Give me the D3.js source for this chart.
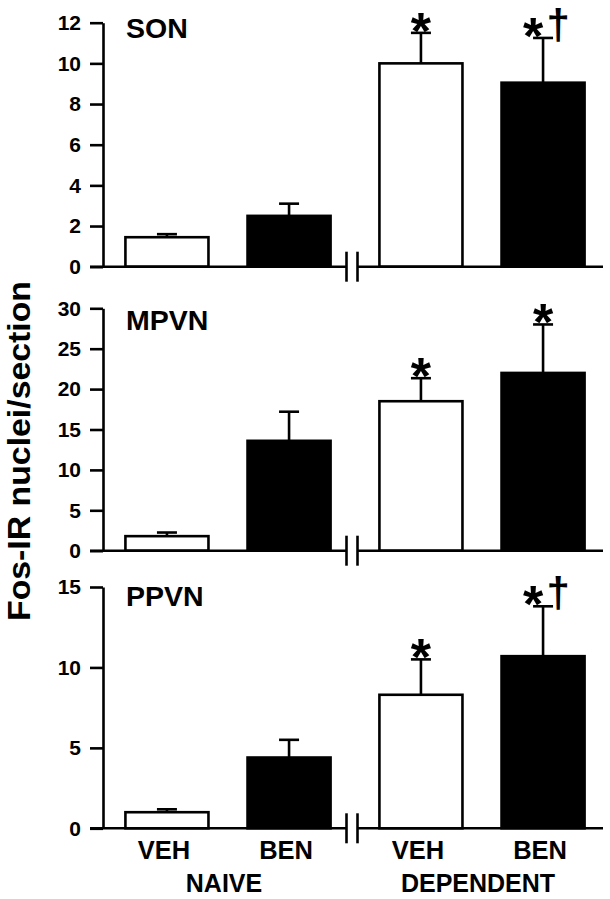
<!DOCTYPE html>
<html>
<head>
<meta charset="utf-8">
<script src="https://cdn.jsdelivr.net/npm/d3@7"></script>
<style>
  html, body { margin: 0; padding: 0; background: #fff; }
  svg { display: block; }
  text { font-family: "Liberation Sans", Arial, Helvetica, sans-serif; font-weight: bold; fill: #000; }
</style>
</head>
<body>
<svg id="chart" width="610" height="899"></svg>
<script>
// ---- data ----
const regions = ["SON", "MPVN", "PPVN"];
const groups = ["NAIVE", "DEPENDENT"];
const treatments = ["VEH", "BEN"];
const sonMeans = [1.45, 2.5, 10.0, 9.05];
const sonErrors = [0.15, 0.6, 1.5, 2.2];
const mpvnMeans = [1.8, 13.6, 18.5, 22.0];
const mpvnErrors = [0.45, 3.6, 2.85, 6.0];
const ppvnMeans = [1.0, 4.4, 8.3, 10.7];
const ppvnErrors = [0.18, 1.1, 2.2, 3.1];
const sonMarks = ["", "", "*", "*†"];
const mpvnMarks = ["", "", "*", "*"];
const ppvnMarks = ["", "", "*", "*†"];
const sonTicks = [0, 2, 4, 6, 8, 10, 12];
const mpvnTicks = [0, 5, 10, 15, 20, 25, 30];
const ppvnTicks = [0, 5, 10, 15];
const yTitle = "Fos-IR nuclei/section";

const svg = d3.select("#chart");

// layout
const axisX = 103, xEnd = 603;
const panelLayout = [
  { bottom: 266.7, top: 22.7, labelY: 38 },
  { bottom: 550.7, top: 308.3, labelY: 330 },
  { bottom: 828.3, top: 587, labelY: 606 }
];
const panelMeans = [sonMeans, mpvnMeans, ppvnMeans];
const panelErrors = [sonErrors, mpvnErrors, ppvnErrors];
const panelMarks = [sonMarks, mpvnMarks, ppvnMarks];
const panelTicks = [sonTicks, mpvnTicks, ppvnTicks];

const outer = d3.scaleBand().domain(groups).range([101, 609]).paddingInner(0).paddingOuter(0);
const inner = d3.scaleBand().domain(treatments).range([0, outer.bandwidth()]).paddingInner(0.32).paddingOuter(0.2);

const cells = [];
groups.forEach(g => treatments.forEach(t => cells.push({ g, t })));

const breakX = outer("DEPENDENT") - 3;
const SW = 2.6;

regions.forEach((reg, pi) => {
  const L = panelLayout[pi];
  const ticks = panelTicks[pi];
  const y = d3.scaleLinear().domain([0, d3.max(ticks)]).range([L.bottom, L.top]);
  const gp = svg.append("g");

  // y axis
  const ax = gp.append("g").attr("transform", `translate(${axisX},0)`)
    .call(d3.axisLeft(y).tickValues(ticks).tickSize(13).tickSizeOuter(0).tickPadding(9).tickFormat(d3.format("d")));
  ax.select(".domain").attr("stroke", "#000").attr("stroke-width", SW);
  ax.selectAll(".tick line").attr("stroke", "#000").attr("stroke-width", SW);
  ax.selectAll(".tick text").attr("font-size", 21).attr("font-family", "Liberation Sans, Arial, sans-serif").attr("font-weight", "bold").attr("fill", "#000");

  const data = cells.map((c, i) => ({ ...c, mean: panelMeans[pi][i], err: panelErrors[pi][i], mark: panelMarks[pi][i] }));
  const bx = d => outer(d.g) + inner(d.t);
  const bw = inner.bandwidth();

  // error bars (upward only)
  gp.selectAll(".err").data(data).enter().append("line")
    .attr("x1", d => bx(d) + bw / 2).attr("x2", d => bx(d) + bw / 2)
    .attr("y1", d => y(d.mean)).attr("y2", d => y(d.mean + d.err))
    .attr("stroke", "#000").attr("stroke-width", SW);
  gp.selectAll(".cap").data(data).enter().append("line")
    .attr("x1", d => bx(d) + bw / 2 - 10).attr("x2", d => bx(d) + bw / 2 + 10)
    .attr("y1", d => y(d.mean + d.err)).attr("y2", d => y(d.mean + d.err))
    .attr("stroke", "#000").attr("stroke-width", SW);

  // bars
  gp.selectAll(".bar").data(data).enter().append("rect")
    .attr("x", d => bx(d)).attr("width", bw)
    .attr("y", d => y(d.mean)).attr("height", d => y(0) - y(d.mean))
    .attr("fill", d => d.t === "VEH" ? "#fff" : "#000")
    .attr("stroke", "#000").attr("stroke-width", SW);

  // x axis with break
  const y0 = y(0);
  gp.append("line").attr("x1", 90).attr("x2", breakX - 5.5).attr("y1", y0).attr("y2", y0)
    .attr("stroke", "#000").attr("stroke-width", SW);
  gp.append("line").attr("x1", breakX + 5.5).attr("x2", xEnd).attr("y1", y0).attr("y2", y0)
    .attr("stroke", "#000").attr("stroke-width", SW);
  [-5.5, 5.5].forEach(dx => {
    gp.append("line").attr("x1", breakX + dx).attr("x2", breakX + dx)
      .attr("y1", y0 - 15).attr("y2", y0 + 15)
      .attr("stroke", "#000").attr("stroke-width", SW);
  });

  // significance marks
  data.filter(d => d.mark).forEach(d => {
    const cx = bx(d) + bw / 2;
    const capY = y(d.mean + d.err);
    if (d.mark.includes("*")) {
      gp.append("text").attr("x", cx - (d.mark.includes("†") ? 10 : 0)).attr("y", capY + 16)
        .attr("text-anchor", "middle").attr("font-size", 52).text("*");
    }
    if (d.mark.includes("†")) {
      gp.append("text").attr("x", cx + 15).attr("y", capY + 1)
        .attr("text-anchor", "middle").attr("font-size", 42).text("†");
    }
  });

  // panel label
  gp.append("text").attr("x", 126).attr("y", L.labelY).attr("font-size", 28.5).text(reg);
});

// x labels (bottom panel only)
const bottomY = panelLayout[2].bottom;
cells.forEach(c => {
  svg.append("text").attr("x", outer(c.g) + inner(c.t) + inner.bandwidth() / 2 - 3)
    .attr("y", bottomY + 31).attr("text-anchor", "middle").attr("font-size", 25.5).text(c.t);
});
groups.forEach(g => {
  svg.append("text").attr("x", outer(g) + outer.bandwidth() / 2 - 4)
    .attr("y", bottomY + 64).attr("text-anchor", "middle").attr("font-size", 25).text(g);
});

// y title
svg.append("text").attr("transform", "translate(30,451) rotate(-90)")
  .attr("text-anchor", "middle").attr("font-size", 31)
  .attr("textLength", 340).attr("lengthAdjust", "spacingAndGlyphs").text(yTitle);
</script>
</body>
</html>
